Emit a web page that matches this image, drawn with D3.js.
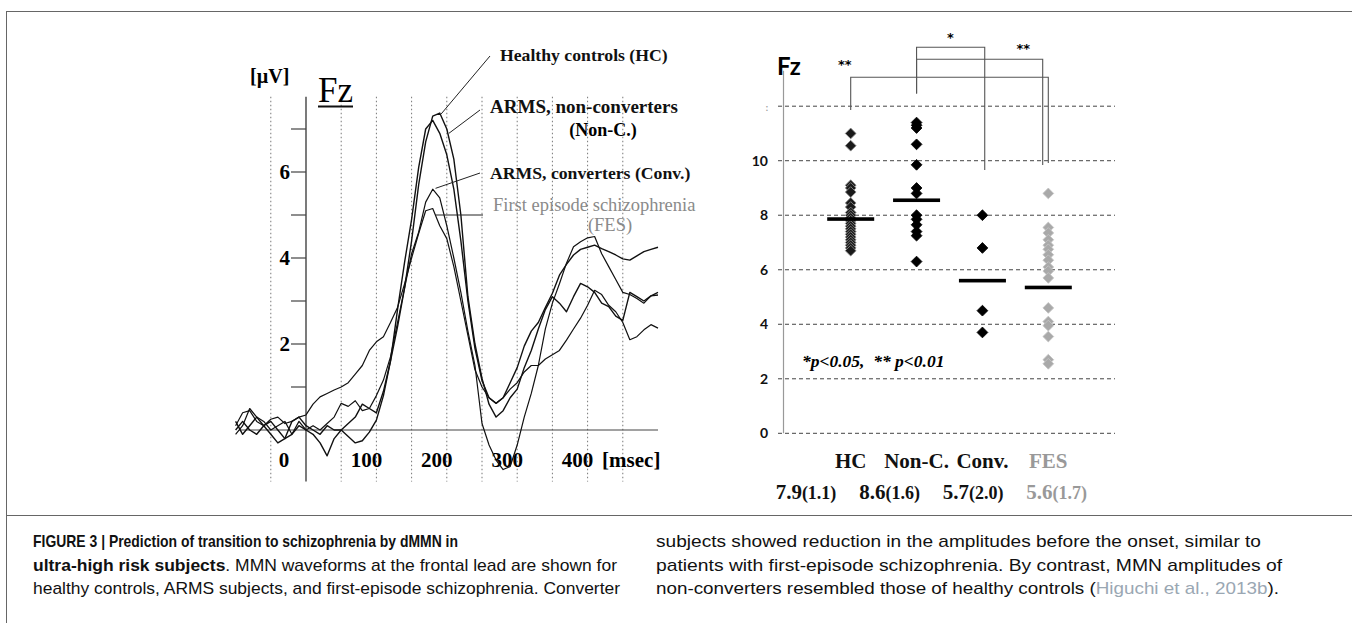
<!DOCTYPE html>
<html><head><meta charset="utf-8">
<script src="https://cdn.jsdelivr.net/npm/d3@7"></script>
<style>body{margin:0;background:#fff}svg{display:block}</style>
</head><body>
<svg id="c" width="1352" height="623"></svg>
<script>
// ---------------- DATA ----------------
const timesMs = [-100,-90,-80,-70,-60,-50,-40,-30,-20,-10,0,10,20,30,40,50,60,70,80,90,100,110,120,130,140,150,160,170,180,190,200,210,220,230,240,250,260,270,280,290,300,310,320,330,340,350,360,370,380,390,400,410,420,430,440,450,460,470,480,490,500];
const waveHC   = [0.2,-0.1,0.1,0.3,0.1,-0.1,-0.3,-0.2,0.2,0.3, 0.1,0.0,-0.1,0.1,0.0,0.0,-0.15,-0.3,-0.25,-0.05, 0.23,0.8,1.6,2.8,3.9,4.9,6.1,7.0,7.2,6.9, 6.4,5.6,4.4,3.0,1.9,1.15,0.75,0.62,0.75,1.1, 1.45,1.95,2.3,2.5,2.85,3.18,3.6,3.85,4.07,4.2, 4.25,4.3,4.22,4.15,4.07,3.98,3.95,4.05,4.15,4.2,4.25];
const waveNonC = [0.0,0.2,0.0,-0.1,0.1,0.2,0.0,-0.2,-0.1,0.1, 0.0,-0.1,-0.3,-0.6,-0.2,0.0,0.15,0.3,0.6,0.5, 0.4,0.9,1.6,2.4,3.3,4.4,5.7,6.7,7.3,7.37, 7.0,6.3,5.0,3.1,2.0,1.2,0.6,0.3,0.45,0.75, 0.95,1.45,1.85,2.35,2.8,3.1,2.95,2.75,3.1,3.41, 3.33,3.2,2.95,2.87,2.65,2.55,3.2,3.1,3.0,3.12,3.14];
const waveConv = [-0.1,0.1,0.5,0.3,0.2,0.0,0.1,0.2,-0.1,0.2, 0.0,0.1,0.0,0.15,0.3,0.62,0.55,0.68,0.45,0.5, 0.8,1.16,1.7,2.5,3.3,4.1,4.6,5.3,5.6,5.4, 4.75,4.0,3.2,2.3,1.5,0.15,-0.35,-0.7,-0.92,-0.85, -0.35,0.3,0.85,1.5,2.35,2.95,3.4,3.88,4.26,4.38, 4.47,4.5,4.1,3.8,3.5,3.2,3.15,3.06,2.95,3.12,3.2];
const waveFES  = [0.1,0.4,0.45,0.2,0.1,0.25,0.3,0.15,0.2,0.3, 0.35,0.6,0.77,0.85,0.93,1.0,1.1,1.3,1.5,1.85, 2.05,2.17,2.5,2.85,3.4,4.0,4.57,5.1,5.15,4.75, 4.45,3.8,3.0,2.2,1.4,1.0,0.75,0.62,0.75,0.95, 1.1,1.35,1.5,1.5,1.65,1.75,1.85,2.09,2.35,2.6, 2.9,3.25,3.15,2.9,2.75,2.5,2.1,2.17,2.33,2.45,2.37];

const leftYMajor = [2,4,6];
const leftYMinor = [1,3,5,7];
const leftXGrid = [-50,50,100,150,200,250,300,350,400,450];
const leftXLabels = [0,100,200,300,400];

const groups = ["HC","Non-C.","Conv.","FES"];
const ampHC   = [11.0,10.55,9.1,9.0,8.85,8.45,8.3,8.1,8.0,7.9,7.8,7.7,7.6,7.5,7.4,7.3,7.2,7.1,7.0,6.9,6.8,6.7];
const ampNonC = [11.4,11.3,11.2,10.6,9.85,9.0,8.8,8.0,7.85,7.65,7.4,7.25,6.3];
const ampConv = [8.0,6.8,4.5,3.7];
const ampFES  = [8.8,7.55,7.35,7.1,6.9,6.75,6.55,6.35,6.1,5.95,5.7,4.6,4.1,3.95,3.55,2.7,2.55];
const groupMeans = [7.86,8.55,5.6,5.35];
const meanText = ["7.9","8.6","5.7","5.6"];
const sdText = ["(1.1)","(1.6)","(2.0)","(1.7)"];
const rightYTicks = [0,2,4,6,8,10,12];
const rightYLabels = ["0","2","4","6","8","10",":"];
const brackets = [
  {a:"HC", b:"FES", level:13.06, legA:11.86, legB:9.92, bOff:0},
  {a:"Non-C.", b:"FES", level:13.72, legA:12.47, legB:9.84, bOff:-5.6},
  {a:"Non-C.", b:"Conv.", level:14.16, legA:12.47, legB:9.66, bOff:2.3}
];

// ---------------- DRAW ----------------
const svg = d3.select("#c");
const serif = "'Liberation Serif','Times New Roman',serif";
const sans = "Lato,'Open Sans',sans-serif";

svg.append("line").attr("x1",6).attr("x2",1352).attr("y1",11.5).attr("y2",11.5).attr("stroke","#666").attr("stroke-width",1.2);
svg.append("line").attr("x1",6.5).attr("x2",6.5).attr("y1",11).attr("y2",623).attr("stroke","#666").attr("stroke-width",1);
svg.append("line").attr("x1",6).attr("x2",1352).attr("y1",515.5).attr("y2",515.5).attr("stroke","#666").attr("stroke-width",1);

// ---- Left waveform chart ----
const x = d3.scaleLinear().domain([0,500]).range([306,658]);
const y = d3.scaleLinear().domain([0,7]).range([430,129]);
const L = svg.append("g");
const yTop = y(7.75), yBot = y(-1.2);

L.selectAll("line.vg").data(leftXGrid).join("line")
  .attr("x1",d=>x(d)).attr("x2",d=>x(d)).attr("y1",yTop).attr("y2",yBot)
  .attr("stroke","#777").attr("stroke-width",1).attr("stroke-dasharray","1.5,2.5");
L.append("line").attr("x1",x(0)).attr("x2",x(0)).attr("y1",yTop).attr("y2",yBot).attr("stroke","#222").attr("stroke-width",1.2);
L.selectAll("line.tk").data(leftYMajor.concat(leftYMinor)).join("line")
  .attr("x1",x(0)-15).attr("x2",x(0)).attr("y1",d=>y(d)).attr("y2",d=>y(d)).attr("stroke","#444").attr("stroke-width",1.2);
L.selectAll("text.yl").data(leftYMajor).join("text")
  .attr("x",x(0)-16).attr("y",d=>y(d)+7).attr("text-anchor","end")
  .attr("font-family",serif).attr("font-weight","bold").attr("font-size",21).text(d=>d);
L.append("line").attr("x1",x(-95)).attr("x2",x(500)).attr("y1",y(0)).attr("y2",y(0)).attr("stroke","#444").attr("stroke-width",1);
L.selectAll("text.xl").data(leftXLabels).join("text")
  .attr("x",d=>x(d)-(d===0?22:10)).attr("y",467).attr("text-anchor","middle")
  .attr("font-family",serif).attr("font-weight","bold").attr("font-size",21).text(d=>d);
L.append("text").attr("x",x(462)).attr("y",467).attr("text-anchor","middle")
  .attr("font-family",serif).attr("font-weight","bold").attr("font-size",21).text("[msec]");
L.append("text").attr("x",250).attr("y",83).attr("font-family",serif).attr("font-weight","bold").attr("font-size",20).text("[µV]");
L.append("text").attr("x",318).attr("y",102).attr("font-family",serif).attr("font-size",35).text("Fz");
L.append("line").attr("x1",318).attr("x2",353).attr("y1",106.5).attr("y2",106.5).attr("stroke","#111").attr("stroke-width",2);

const line = d3.line().x((d,i)=>x(timesMs[i])).y(d=>y(d));
[waveHC,waveNonC,waveConv,waveFES].forEach((w,k)=>{
  L.append("path").attr("d",line(w)).attr("fill","none").attr("stroke","#111")
   .attr("stroke-width",k<2?1.4:1.2).attr("stroke-linejoin","round");
});

const ann = [
  {t:"Healthy controls (HC)", tx:500, ty:61, lx:x(192), ly:y(7.35), ex:490, ey:56, col:"#111", w:"bold", fs:17.7},
  {t:"ARMS, non-converters", tx:490, ty:113, lx:x(203), ly:y(6.9), ex:480, ey:110, col:"#111", w:"bold", fs:19},
  {t:"ARMS, converters (Conv.)", tx:490, ty:179, lx:x(184), ly:y(5.62), ex:480, ey:173, col:"#111", w:"bold", fs:17.7},
  {t:"First episode schizophrenia", tx:493, ty:211, lx:x(184), ly:y(5.0), ex:483, ey:y(5.0), col:"#8a8a8a", w:"normal", fs:18.5}
];
ann.forEach(a=>{
  L.append("line").attr("x1",a.lx).attr("y1",a.ly).attr("x2",a.ex).attr("y2",a.ey).attr("stroke","#222").attr("stroke-width",1);
  L.append("text").attr("x",a.tx).attr("y",a.ty).attr("font-family",serif).attr("font-weight",a.w)
   .attr("font-size",a.fs).attr("fill",a.col).text(a.t);
});
L.append("text").attr("x",603).attr("y",136).attr("text-anchor","middle").attr("font-family",serif).attr("font-weight","bold").attr("font-size",18).text("(Non-C.)");
L.append("text").attr("x",610).attr("y",231).attr("text-anchor","middle").attr("font-family",serif).attr("font-size",18.5).attr("fill","#8a8a8a").text("(FES)");

// ---- Right dot plot ----
const gx = d3.scalePoint().domain(groups).range([850.7,1048.3]);
const gy = d3.scaleLinear().domain([0,12]).range([433.3,106.2]);
const R = svg.append("g");
R.selectAll("line.hg").data(rightYTicks).join("line")
  .attr("x1",778).attr("x2",1115).attr("y1",d=>gy(d)).attr("y2",d=>gy(d))
  .attr("stroke","#444").attr("stroke-width",1).attr("stroke-dasharray","4,3");
R.append("line").attr("x1",783.5).attr("x2",783.5).attr("y1",gy(13.3)).attr("y2",gy(0)).attr("stroke","#999").attr("stroke-width",1.2);
R.selectAll("text.ryl").data(rightYTicks).join("text")
  .attr("x",768).attr("y",d=>gy(d)+5).attr("text-anchor","end")
  .attr("font-family",sans).attr("font-weight","bold").attr("font-size",(d,i)=>rightYLabels[i]===":"?9:14)
  .attr("fill",(d,i)=>rightYLabels[i]===":"?"#999":"#111")
  .text((d,i)=>rightYLabels[i]);
R.append("text").attr("x",777).attr("y",75).attr("font-family",sans).attr("font-weight","bold").attr("font-size",24).text("Fz");

brackets.forEach(b=>{
  const xa = gx(b.a), xb = gx(b.b)+b.bOff, yl = gy(b.level);
  R.append("path").attr("d",`M${xa},${gy(b.legA)}V${yl}H${xb}V${gy(b.legB)}`)
   .attr("fill","none").attr("stroke","#555").attr("stroke-width",1.1);
});
const starFont = "'DejaVu Sans',sans-serif";
R.append("text").attr("x",(gx("Non-C.")+gx("Conv."))/2+1).attr("y",42).attr("text-anchor","middle").attr("font-family",starFont).attr("font-weight","bold").attr("font-size",13).text("*");
R.append("text").attr("x",gx("FES")-25).attr("y",53).attr("text-anchor","middle").attr("font-family",starFont).attr("font-weight","bold").attr("font-size",13).text("**");
R.append("text").attr("x",gx("HC")-6).attr("y",69).attr("text-anchor","middle").attr("font-family",starFont).attr("font-weight","bold").attr("font-size",13).text("**");

const diamond = d3.symbol().type(d3.symbolSquare).size(58)();
const styles = [
  {fill:"#1a1a1a", stroke:"#8a8a8a"},
  {fill:"#000", stroke:"#000"},
  {fill:"#000", stroke:"#000"},
  {fill:"#a9a9a9", stroke:"#c4c4c4"}
];
[ampHC,ampNonC,ampConv,ampFES].forEach((arr,k)=>{
  R.selectAll(null).data(arr).join("path")
   .attr("d",diamond)
   .attr("transform",d=>`translate(${gx(groups[k])},${gy(d)}) rotate(45)`)
   .attr("fill",styles[k].fill).attr("stroke",styles[k].stroke).attr("stroke-width",0.8);
});
R.selectAll("rect.mean").data(groupMeans).join("rect")
  .attr("x",(d,i)=>gx(groups[i])-23.5).attr("y",d=>gy(d)-1.8).attr("width",47).attr("height",3.6).attr("fill","#000");

R.append("text").attr("x",802).attr("y",367).attr("font-family",serif).attr("font-weight","bold").attr("font-style","italic").attr("font-size",17.5)
 .attr("xml:space","preserve").text("*p<0.05,  ** p<0.01");

R.selectAll("text.cat").data(groups).join("text")
  .attr("x",d=>gx(d)).attr("y",468).attr("text-anchor","middle")
  .attr("font-family",serif).attr("font-weight","bold").attr("font-size",21)
  .attr("fill",d=>d==="FES"?"#999":"#111").text(d=>d);
const sx = d3.scalePoint().domain(groups).range([806,1056.7]);
groups.forEach((g,i)=>{
  const t = R.append("text").attr("x",sx(g)).attr("y",499).attr("text-anchor","middle")
   .attr("font-family",serif).attr("font-weight","bold").attr("fill",g==="FES"?"#999":"#111");
  t.append("tspan").attr("font-size",21).text(meanText[i]);
  t.append("tspan").attr("font-size",18).text(sdText[i]);
});

// ---- Caption ----
const cap = svg.append("g").attr("font-family","'Liberation Sans',Arial,sans-serif").attr("font-size",17).attr("fill","#111");
function capLine(xp, yp, parts, width){
  const t = cap.append("text").attr("x",xp).attr("y",yp).attr("textLength",width).attr("lengthAdjust","spacingAndGlyphs");
  parts.forEach(p=>{
    const s = t.append("tspan").text(p.s);
    if(p.b) s.attr("font-weight","bold");
    if(p.c) s.attr("fill",p.c);
  });
}
capLine(33,547,[{s:"FIGURE 3 | Prediction of transition to schizophrenia by dMMN in",b:1}],425);
capLine(33,571,[{s:"ultra-high risk subjects",b:1},{s:". MMN waveforms at the frontal lead are shown for"}],584);
capLine(33,594,[{s:"healthy controls, ARMS subjects, and first-episode schizophrenia. Converter"}],587);
capLine(656,547,[{s:"subjects showed reduction in the amplitudes before the onset, similar to"}],605);
capLine(656,571,[{s:"patients with first-episode schizophrenia. By contrast, MMN amplitudes of"}],626);
capLine(656,594,[{s:"non-converters resembled those of healthy controls ("},{s:"Higuchi et al., 2013b",c:"#9aa7b3"},{s:")."}],623);
</script>
</body></html>
